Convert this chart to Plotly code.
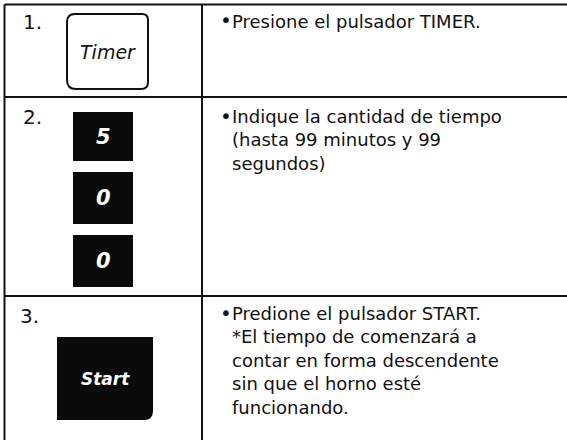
import plotly.graph_objects as go

# ---- content (data) ----
step_labels = ["1.", "2.", "3."]
timer_label = "Timer"
digit_keys = ["5", "0", "0"]
start_label = "Start"
instructions = [
    ["Presione el pulsador TIMER."],
    ["Indique la cantidad de tiempo", "(hasta 99 minutos y 99", "segundos)"],
    ["Predione el pulsador START.", "*El tiempo de comenzará a",
     "contar en forma descendente", "sin que el horno esté", "funcionando."],
]

# ---- layout geometry (pixels) ----
W, H = 567, 440
left_x, div_x, top_y = 4.5, 202, 4.5
row_lines = [97, 296]
step_pos = [(21, 22), (21, 117), (18, 316)]
timer_box = (67, 14, 148, 89)
digit_boxes = [(73, 112, 133, 161), (73, 172, 133, 224), (73, 235, 133, 287)]
start_box = (57, 337, 153, 420)
text_x, bullet_x = 230, 218
block_top = [9, 104, 301]
bullet_y = [20, 116, 313]

FONT = "DejaVu Sans"
INK = "#111111"

fig = go.Figure()
shapes = []
annots = []

line_style = dict(color=INK, width=2)
shapes.append(dict(type="line", x0=left_x, x1=W, y0=top_y, y1=top_y, line=line_style))
shapes.append(dict(type="line", x0=left_x, x1=left_x, y0=top_y, y1=H, line=line_style))
shapes.append(dict(type="line", x0=div_x, x1=div_x, y0=top_y, y1=H, line=line_style))
for ry in row_lines:
    shapes.append(dict(type="line", x0=left_x, x1=W, y0=ry, y1=ry, line=line_style))


def rrect(x0, y0, x1, y1, r=(0, 0, 0, 0)):
    tl, tr, br, bl = r
    return (f"M {x0+tl},{y0} L {x1-tr},{y0} Q {x1},{y0} {x1},{y0+tr} "
            f"L {x1},{y1-br} Q {x1},{y1} {x1-br},{y1} L {x0+bl},{y1} "
            f"Q {x0},{y1} {x0},{y1-bl} L {x0},{y0+tl} Q {x0},{y0} {x0+tl},{y0} Z")


# Timer key (outlined)
x0, y0, x1, y1 = timer_box
shapes.append(dict(type="path", path=rrect(x0, y0, x1, y1, (8, 6, 7, 9)),
                   line=dict(color=INK, width=2), fillcolor="white"))
annots.append(dict(x=(x0 + x1) / 2, y=(y0 + y1) / 2, text=timer_label,
                   yanchor="middle",
                   font=dict(family=FONT, size=19, color=INK, style="italic")))

# digit keys
for (bx0, by0, bx1, by1), d in zip(digit_boxes, digit_keys):
    shapes.append(dict(type="rect", x0=bx0, y0=by0, x1=bx1, y1=by1,
                       line=dict(width=0), fillcolor="#0a0a0a"))
    annots.append(dict(x=(bx0 + bx1) / 2, y=(by0 + by1) / 2, text=f"<b>{d}</b>",
                       yanchor="middle",
                       font=dict(family=FONT, size=21, color="white", style="italic")))

# Start key
x0, y0, x1, y1 = start_box
shapes.append(dict(type="path", path=rrect(x0, y0, x1, y1, (0, 0, 9, 0)),
                   line=dict(width=0), fillcolor="#0a0a0a"))
annots.append(dict(x=(x0 + x1) / 2, y=(y0 + y1) / 2, text=f"<b>{start_label}</b>",
                   yanchor="middle",
                   font=dict(family=FONT, size=17, color="white", style="italic")))

# step numbers
for (sx, sy), lab in zip(step_pos, step_labels):
    annots.append(dict(x=sx, y=sy, text=lab, xanchor="left", yanchor="middle",
                       font=dict(family=FONT, size=20, color=INK)))

# instruction text: one text block per cell
for lines, yt, yb in zip(instructions, block_top, bullet_y):
    annots.append(dict(x=bullet_x, y=yb, text="•", xanchor="left", yanchor="middle",
                       font=dict(family=FONT, size=20, color=INK)))
    annots.append(dict(x=text_x, y=yt, text="<br>".join(lines), xanchor="left",
                       yanchor="top", align="left",
                       font=dict(family=FONT, size=18, color=INK)))

for a in annots:
    a.setdefault("xanchor", "center")
    a.update(showarrow=False, xref="x", yref="y")

fig.update_layout(
    width=W, height=H,
    margin=dict(l=0, r=0, t=0, b=0),
    paper_bgcolor="white", plot_bgcolor="white",
    xaxis=dict(range=[0, W], visible=False, fixedrange=True),
    yaxis=dict(range=[H, 0], visible=False, fixedrange=True),
    shapes=shapes, annotations=annots, showlegend=False,
)

fig.write_html("out.html", config={"displayModeBar": False},
               post_script="document.body.style.margin='0px';document.body.style.overflow='hidden';")
